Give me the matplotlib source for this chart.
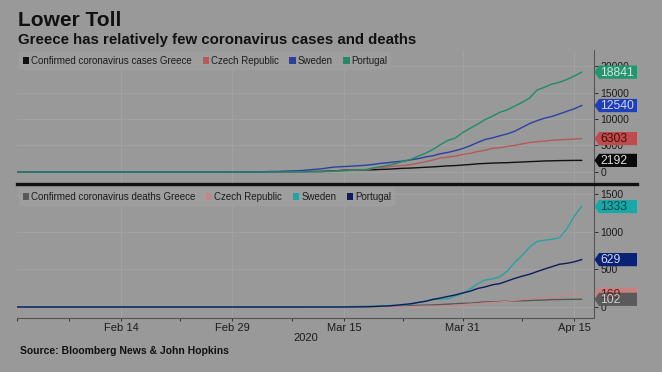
import matplotlib
matplotlib.use("Agg")
import matplotlib.pyplot as plt
import matplotlib.dates as mdates
import matplotlib.ticker as mticker
import matplotlib.transforms as mtransforms
from matplotlib.patches import Polygon, Patch
from matplotlib.lines import Line2D
import pandas as pd

# daily values, Jan 31 2020 - Apr 16 2020
dates = pd.date_range("2020-01-31", periods=77)

cases_greece = [
    0, 0, 0, 0, 0, 0, 0, 0, 0, 0, 0, 0, 0, 0, 0, 0, 0, 0, 0, 0, 0, 0, 0, 0, 0, 0,
    1, 3, 4, 4,
    7, 7, 7, 9, 31, 45, 46, 73, 73, 89, 99, 99, 190, 228, 331, 331,
    387, 418, 418, 495, 530, 624, 695, 743, 821, 892, 966, 1061, 1156, 1212, 1314,
    1415, 1544, 1613, 1673, 1735, 1755, 1832, 1884, 1955, 2011, 2081, 2114, 2145, 2170, 2192, 2192,
]
cases_czech = [
    0, 0, 0, 0, 0, 0, 0, 0, 0, 0, 0, 0, 0, 0, 0, 0, 0, 0, 0, 0, 0, 0, 0, 0, 0, 0,
    0, 0, 0, 0,
    3, 3, 5, 5, 8, 19, 26, 32, 38, 63, 94, 116, 141, 189, 253, 298,
    396, 464, 694, 833, 995, 1120, 1236, 1394, 1654, 1925, 2279, 2631, 2817, 3001, 3308,
    3508, 3858, 4091, 4472, 4587, 4822, 5017, 5312, 5569, 5732, 5831, 5991, 6059, 6141, 6216, 6303,
]
cases_sweden = [
    1, 1, 1, 1, 1, 1, 1, 1, 1, 1, 1, 1, 1, 1, 1, 1, 1, 1, 1, 1, 1, 1, 1, 1, 1, 1,
    2, 7, 7, 12,
    14, 15, 21, 35, 94, 101, 161, 203, 248, 355, 500, 599, 814, 961, 1022, 1103,
    1190, 1279, 1439, 1639, 1763, 1934, 2046, 2286, 2526, 2840, 3069, 3447, 3700, 4028, 4435,
    4947, 5568, 6131, 6443, 6830, 7206, 7693, 8419, 9141, 9685, 10151, 10483, 10948, 11445, 11927, 12540,
]
cases_portugal = [
    0, 0, 0, 0, 0, 0, 0, 0, 0, 0, 0, 0, 0, 0, 0, 0, 0, 0, 0, 0, 0, 0, 0, 0, 0, 0,
    0, 0, 0, 0,
    0, 2, 2, 5, 8, 13, 20, 30, 30, 41, 59, 59, 112, 169, 245, 331,
    448, 448, 785, 1020, 1280, 1600, 2060, 2362, 2995, 3544, 4268, 5170, 5962, 6408, 7443,
    8251, 9034, 9886, 10524, 11278, 11730, 12442, 13141, 13956, 15472, 15987, 16585, 16934, 17448, 18091, 18841,
]

deaths_greece = [
    0, 0, 0, 0, 0, 0, 0, 0, 0, 0, 0, 0, 0, 0, 0, 0, 0, 0, 0, 0, 0, 0, 0, 0, 0, 0,
    0, 0, 0, 0,
    0, 0, 0, 0, 0, 0, 0, 0, 0, 0, 0, 1, 1, 3, 4, 4,
    5, 5, 5, 6, 13, 15, 17, 20, 22, 26, 28, 32, 38, 43, 49,
    50, 59, 68, 68, 73, 79, 81, 83, 86, 90, 93, 98, 99, 101, 102, 102,
]
deaths_czech = [
    0, 0, 0, 0, 0, 0, 0, 0, 0, 0, 0, 0, 0, 0, 0, 0, 0, 0, 0, 0, 0, 0, 0, 0, 0, 0,
    0, 0, 0, 0,
    0, 0, 0, 0, 0, 0, 0, 0, 0, 0, 0, 0, 0, 0, 0, 0,
    0, 0, 0, 0, 0, 1, 1, 3, 9, 9, 9, 11, 16, 23, 31,
    39, 44, 53, 59, 67, 78, 88, 99, 112, 119, 129, 138, 143, 161, 166, 169,
]
deaths_sweden = [
    0, 0, 0, 0, 0, 0, 0, 0, 0, 0, 0, 0, 0, 0, 0, 0, 0, 0, 0, 0, 0, 0, 0, 0, 0, 0,
    0, 0, 0, 0,
    0, 0, 0, 0, 0, 0, 0, 0, 0, 0, 1, 1, 1, 2, 3, 6,
    7, 10, 11, 16, 20, 21, 25, 36, 62, 77, 105, 105, 110, 146, 180,
    239, 308, 358, 373, 401, 477, 591, 687, 793, 870, 887, 899, 919, 1033, 1203, 1333,
]
deaths_portugal = [
    0, 0, 0, 0, 0, 0, 0, 0, 0, 0, 0, 0, 0, 0, 0, 0, 0, 0, 0, 0, 0, 0, 0, 0, 0, 0,
    0, 0, 0, 0,
    0, 0, 0, 0, 0, 0, 0, 0, 0, 0, 0, 0, 0, 0, 0, 1,
    2, 3, 6, 12, 14, 23, 33, 43, 60, 76, 100, 119, 140, 160, 187,
    209, 246, 266, 295, 311, 345, 380, 409, 435, 470, 504, 535, 567, 580, 599, 629,
]

case_labels = ["Confirmed coronavirus cases Greece", "Czech Republic", "Sweden", "Portugal"]
death_labels = ["Confirmed coronavirus deaths Greece", "Czech Republic", "Sweden", "Portugal"]

case_colors = ["#111111", "#b55a58", "#2a41a3", "#1e8c68"]
case_tag_colors = ["#0a0a0a", "#bf4c4c", "#1f3fb8", "#22966f"]
case_tag_text = ["#dddddd", "#4a0c0c", "#cdd4f0", "#cce6dc"]
death_colors = ["#585858", "#c28787", "#25a3a3", "#0e1c5c"]
death_tag_colors = ["#5a5a5a", "#c98080", "#1aa7a7", "#0a2275"]
death_tag_text = ["#cccccc", "#5a1c1c", "#0b4a4a", "#d0d6ee"]

major_dates = ["2020-02-14", "2020-02-29", "2020-03-15", "2020-03-31", "2020-04-15"]
minor_dates = ["2020-01-31", "2020-02-07", "2020-02-22", "2020-03-08", "2020-03-23", "2020-04-08"]

bg = "#999999"
grid_c = "#a3a3a3"
text_c = "#1c1c1c"

plt.rcParams["font.family"] = ["Liberation Sans", "DejaVu Sans"]

W, H = 662, 372
fig = plt.figure(figsize=(W / 100, H / 100), dpi=100, facecolor=bg)
ax1 = fig.add_axes([17 / W, 1 - 184 / H, 577 / W, 134 / H], facecolor=bg)
ax2 = fig.add_axes([17 / W, 1 - 318 / H, 577 / W, 132 / H], facecolor=bg, sharex=ax1)


def tag(ax, val, fc, tc):
    trans = fig.dpi_scale_trans + mtransforms.ScaledTranslation(1.0, val, ax.get_yaxis_transform())
    w, h, tip = 0.43, 0.066, 0.05
    poly = Polygon([(0.005, 0), (tip, h), (w, h), (w, -h), (tip, -h)], closed=True,
                   transform=trans, fc=fc, ec="none", clip_on=False, zorder=6)
    ax.add_patch(poly)
    ax.text(tip + 0.012, -0.005, f"{val:.0f}", transform=trans, ha="left", va="center",
            fontsize=8.8, color=tc, zorder=7)


series_cases = [cases_greece, cases_czech, cases_sweden, cases_portugal]
series_deaths = [deaths_greece, deaths_czech, deaths_sweden, deaths_portugal]

for ax, series, colors, tcols, ttext, labels in [
    (ax1, series_cases, case_colors, case_tag_colors, case_tag_text, case_labels),
    (ax2, series_deaths, death_colors, death_tag_colors, death_tag_text, death_labels),
]:
    for vals, c in zip(series, colors):
        ax.plot(dates, vals, color=c, lw=1.0, zorder=3)
    for i in [3, 2, 1, 0]:
        tag(ax, series[i][-1], tcols[i], ttext[i])
    handles = [Patch(facecolor=c, edgecolor="none") for c in colors]
    leg = ax.legend(handles, labels, loc="upper left", ncol=4, fontsize=7,
                    frameon=True, fancybox=False, facecolor="#9e9e9e", edgecolor="none",
                    framealpha=1, handlelength=0.65, handleheight=0.65, handletextpad=0.2,
                    columnspacing=1.1, borderpad=0.4, borderaxespad=0.2, labelcolor=text_c)
    leg.set_zorder(4)

    ax.yaxis.tick_right()
    ax.tick_params(axis="y", direction="out", length=3, width=0.7, pad=1.5,
                   labelsize=7.5, colors="#333333", labelcolor=text_c)
    ax.grid(True, color=grid_c, lw=0.6, zorder=0)
    for s in ["top", "left", "bottom"]:
        ax.spines[s].set_visible(False)
    ax.spines["right"].set_color("#555555")
    ax.spines["right"].set_linewidth(0.8)

ax1.set_ylim(-2265, 23020)
ax1.set_yticks([0, 5000, 10000, 15000, 20000])
ax2.set_ylim(-146, 1606)
ax2.set_yticks([0, 500, 1000, 1500])

ax2.set_xlim(pd.Timestamp("2020-01-31"), pd.Timestamp("2020-04-17 16:00"))
ax2.xaxis.set_major_locator(mticker.FixedLocator(mdates.date2num(pd.to_datetime(major_dates))))
ax2.xaxis.set_minor_locator(mticker.FixedLocator(mdates.date2num(pd.to_datetime(minor_dates))))
ax2.xaxis.set_major_formatter(mdates.DateFormatter("%b %d"))
ax1.tick_params(axis="x", which="both", bottom=False, labelbottom=False)
ax2.tick_params(axis="x", which="both", direction="out", length=2.5, width=0.7,
                colors="#333333", labelsize=8, labelcolor=text_c, pad=1)
ax2.spines["bottom"].set_visible(True)
ax2.spines["bottom"].set_color("#555555")
ax2.spines["bottom"].set_linewidth(0.8)
ax2.set_xlabel("2020", fontsize=8, color=text_c, labelpad=0)

# separator between panels
fig.add_artist(Line2D([17 / W, 637 / W], [1 - 184 / H, 1 - 184 / H], color="#111111", lw=2.4))

fig.text(18 / W, 1 - 20 / H, "Lower Toll", fontsize=15, fontweight="bold", color="#111111",
         va="center", ha="left")
fig.text(18 / W, 1 - 40 / H, "Greece has relatively few coronavirus cases and deaths", fontsize=10.8,
         fontweight="bold", color="#111111", va="center", ha="left")
fig.text(20 / W, 1 - 351 / H, "Source: Bloomberg News & John Hopkins", fontsize=7.5,
         fontweight="bold", color="#111111", va="center", ha="left")

fig.savefig("out.png", dpi=100, facecolor=bg)
